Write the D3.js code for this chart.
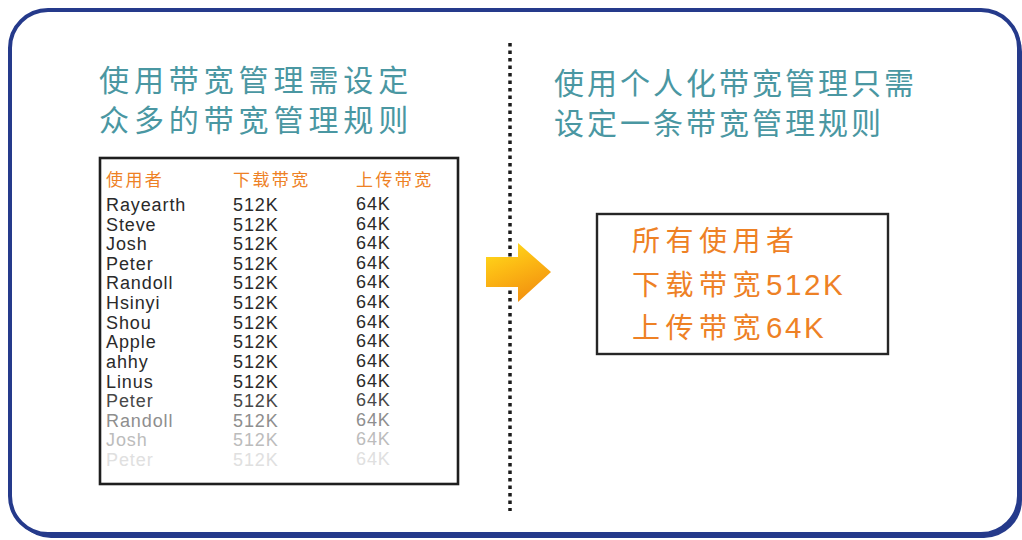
<!DOCTYPE html>
<html>
<head>
<meta charset="utf-8">
<script src="https://cdn.jsdelivr.net/npm/d3@7"></script>
<style>
  body { margin: 0; background: #fff; }
  svg { display: block; }
</style>
</head>
<body>
<svg id="viz"></svg>
<script>
const WIDTH = 1022
const HEIGHT = 540

const BLUE = '#253a8b'
const TEAL = '#4a97a2'
const ORANGE = '#ee8125'
const INK = '#2a2a2a'
const FONT = '"Liberation Sans", "Noto Sans CJK SC", sans-serif'
const CJK_FONT = '"Noto Sans CJK SC", sans-serif'

// text + table content
const leftTitle = ['使用带宽管理需设定', '众多的带宽管理规则']
const rightTitle = ['使用个人化带宽管理只需', '设定一条带宽管理规则']
const tableHeaders = ['使用者', '下载带宽', '上传带宽']
const users = ['Rayearth', 'Steve', 'Josh', 'Peter', 'Randoll', 'Hsinyi', 'Shou',
    'Apple', 'ahhy', 'Linus', 'Peter', 'Randoll', 'Josh', 'Peter']
const downloadBw = ['512K', '512K', '512K', '512K', '512K', '512K', '512K',
    '512K', '512K', '512K', '512K', '512K', '512K', '512K']
const uploadBw = ['64K', '64K', '64K', '64K', '64K', '64K', '64K',
    '64K', '64K', '64K', '64K', '64K', '64K', '64K']
const ruleLines = ['所有使用者', '下载带宽512K', '上传带宽64K']

const svg = d3.select('#viz')
    .attr('width', WIDTH)
    .attr('height', HEIGHT)
    .style('font-family', FONT)

// outer frame, with the offset "shadow" on right / bottom
svg.append('rect')
    .attr('x', 13).attr('y', 14)
    .attr('width', 1009).attr('height', 524)
    .attr('rx', 38)
    .attr('fill', BLUE)
svg.append('rect')
    .attr('x', 10).attr('y', 10)
    .attr('width', 1009).attr('height', 524)
    .attr('rx', 38)
    .attr('fill', '#fff')
    .attr('stroke', BLUE)
    .attr('stroke-width', 4)

// titles
const titleLine = d3.scalePoint().domain([0, 1]).range([0, 40])

svg.append('g')
    .selectAll('text')
    .data(leftTitle)
    .enter().append('text')
        .attr('x', 99)
        .attr('y', (d, i) => 91 + titleLine(i))
        .attr('fill', TEAL)
        .attr('font-size', 30)
        .attr('letter-spacing', 4.9)
        .style('font-family', CJK_FONT)
        .text(d => d)

svg.append('g')
    .selectAll('text')
    .data(rightTitle)
    .enter().append('text')
        .attr('x', 554)
        .attr('y', (d, i) => 94 + titleLine(i))
        .attr('fill', TEAL)
        .attr('font-size', 30)
        .attr('letter-spacing', 3)
        .style('font-family', CJK_FONT)
        .text(d => d)

// divider (dotted) and arrow on top of it
svg.append('line')
    .attr('x1', 510).attr('x2', 510)
    .attr('y1', 43).attr('y2', 511)
    .attr('stroke', '#1a1a1a')
    .attr('stroke-width', 3.5)
    .attr('stroke-dasharray', '3.5,4')

const grad = svg.append('defs').append('linearGradient')
    .attr('id', 'arrowGrad')
    .attr('x1', 0).attr('y1', 0)
    .attr('x2', 0.45).attr('y2', 1)
grad.append('stop').attr('offset', '0%').attr('stop-color', '#ffe01c')
grad.append('stop').attr('offset', '50%').attr('stop-color', '#fcb914')
grad.append('stop').attr('offset', '100%').attr('stop-color', '#f39410')

const arrowPts = [[486, 257], [518, 257], [518, 243], [551, 272], [518, 302], [518, 287], [486, 287]]
svg.append('path')
    .attr('d', d3.line()(arrowPts) + 'Z')
    .attr('fill', 'url(#arrowGrad)')

// left table
svg.append('rect')
    .attr('x', 100).attr('y', 158)
    .attr('width', 358).attr('height', 326)
    .attr('fill', '#fff')
    .attr('stroke', '#1e1e1e')
    .attr('stroke-width', 2.6)

const colX = d3.scaleOrdinal().domain([0, 1, 2]).range([106, 233, 356])
const rowY = d3.scalePoint().domain(d3.range(users.length)).range([211, 466])
const fade = d3.scaleLinear()
    .domain([9, 10, 11, 12, 13])
    .range([INK, '#474747', '#8e8e8e', '#bcbcbc', '#e0e0e0'])
    .clamp(true)

svg.append('g')
    .selectAll('text')
    .data(tableHeaders)
    .enter().append('text')
        .attr('x', (d, i) => colX(i))
        .attr('y', 186)
        .attr('fill', ORANGE)
        .attr('font-size', 17)
        .attr('letter-spacing', 2.4)
        .style('font-family', CJK_FONT)
        .text(d => d)

const columns = [users, downloadBw, uploadBw]
columns.forEach((col, c) => {
    svg.append('g')
        .selectAll('text')
        .data(col)
        .enter().append('text')
            .attr('x', colX(c))
            .attr('y', (d, i) => rowY(i) - (c === 2 ? 1 : 0))
            .attr('fill', (d, i) => fade(i))
            .attr('font-size', 18)
            .attr('letter-spacing', 0.9)
            .text(d => d)
})

// right rule box
svg.append('rect')
    .attr('x', 597).attr('y', 214)
    .attr('width', 291).attr('height', 140)
    .attr('fill', '#fff')
    .attr('stroke', '#262626')
    .attr('stroke-width', 2.4)

const ruleY = d3.scalePoint().domain(d3.range(ruleLines.length)).range([251, 338])

// split each line into CJK / latin runs so each gets its own spacing
const isCjk = r => /[\u3400-\u9fff]/.test(r)
const splitRuns = s => s.match(/[\u3400-\u9fff]+|[^\u3400-\u9fff]+/g)

svg.append('g')
    .selectAll('text')
    .data(ruleLines)
    .enter().append('text')
        .attr('x', 632)
        .attr('y', (d, i) => ruleY(i))
        .attr('fill', ORANGE)
        .attr('font-size', 28)
        .selectAll('tspan')
        .data(d => splitRuns(d))
        .enter().append('tspan')
            .attr('letter-spacing', r => isCjk(r) ? 5.5 : 2.6)
            .attr('font-size', r => isCjk(r) ? 28 : 29.5)
            .text(r => r)
</script>
</body>
</html>
